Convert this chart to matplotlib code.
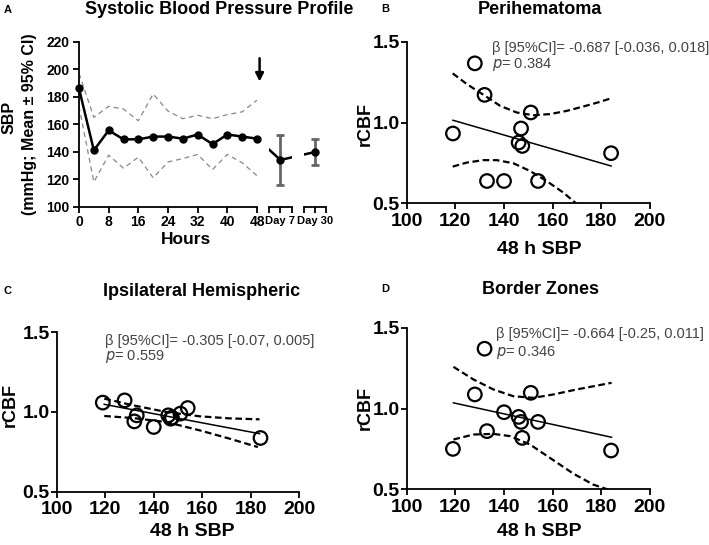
import matplotlib
matplotlib.use("Agg")
import matplotlib.pyplot as plt

plt.rcParams['font.family'] = ['Liberation Sans', 'DejaVu Sans']

# Panel A: SBP profile over the first 48 hours
hours = [0, 4, 8, 12, 16, 20, 24, 28, 32, 36, 40, 44, 48]
sbp_mean = [186, 141, 155.5, 149, 149, 151, 151, 149.5, 152.5, 145.5, 152.5, 151, 149.5]
sbp_upper = [197, 165, 173, 171, 162.5, 182, 169.5, 164, 166.5, 164, 167, 169, 177.5]
sbp_lower = [173, 118, 137.5, 128, 136, 121, 132.5, 135, 138, 127, 138, 132, 122.5]

day_labels = ['Day 7', 'Day 30']
day_mean = [134, 139.8]
day_low = [115.8, 130.3]
day_high = [152, 149.2]

# 48 h SBP (x) shared by panels B-D
sbp48 = [119, 128, 132, 133, 140, 146, 147, 147.5, 151, 154, 184]

# Panel B: perihematoma rCBF
peri = [0.932, 1.366, 1.171, 0.638, 0.638, 0.876, 0.963, 0.855, 1.062, 0.638, 0.810]
peri_fit_x = [119, 184]
peri_fit_y = [1.014, 0.731]
peri_up_x = [118.9, 124.7, 132.2, 138.4, 145.2, 152.1, 158.9, 165.8, 172.6, 179.5, 184.2]
peri_up_y = [1.304, 1.238, 1.165, 1.103, 1.062, 1.045, 1.052, 1.072, 1.099, 1.128, 1.151]
peri_lo_x = [118.9, 124.7, 131.5, 137.0, 143.8, 150.7, 157.5, 164.4, 169.6]
peri_lo_y = [0.727, 0.752, 0.767, 0.767, 0.748, 0.700, 0.638, 0.566, 0.500]

# Panel C: ipsilateral hemispheric rCBF
ipsi = [1.059, 1.073, 0.941, 0.979, 0.906, 0.979, 0.958, 0.965, 0.990, 1.025, 0.837]
ipsi_fit_x = [119.6, 183.6]
ipsi_fit_y = [1.048, 0.864]
ipsi_up_x = [119.6, 131.5, 145.2, 158.9, 171.2, 183.6]
ipsi_up_y = [1.084, 1.042, 1.000, 0.973, 0.960, 0.954]
ipsi_lo_x = [119.6, 131.5, 145.2, 158.9, 171.2, 182.9]
ipsi_lo_y = [0.975, 0.962, 0.937, 0.885, 0.833, 0.780]

# Panel D: border zones rCBF
border = [0.750, 1.087, 1.370, 0.860, 0.977, 0.948, 0.917, 0.818, 1.097, 0.917, 0.740]
border_fit_x = [119.2, 184.2]
border_fit_y = [1.035, 0.822]
border_up_x = [119.2, 127.4, 135.6, 143.8, 152.1, 160.3, 169.9, 184.2]
border_up_y = [1.258, 1.180, 1.118, 1.076, 1.066, 1.087, 1.118, 1.159]
border_lo_x = [119.2, 127.4, 135.6, 142.5, 150.7, 158.9, 168.5, 176.7, 182.9]
border_lo_y = [0.808, 0.839, 0.843, 0.829, 0.777, 0.694, 0.597, 0.529, 0.498]

W, H = 709, 545


def fx(px):
    return px / W


def fy(py):
    return 1 - py / H


def style_axes(ax, size):
    for s in ['top', 'right']:
        ax.spines[s].set_visible(False)
    for s in ['left', 'bottom']:
        ax.spines[s].set_linewidth(1.3)
    ax.tick_params(direction='out', length=4, width=1.3, labelsize=size, pad=1)
    for lab in ax.get_xticklabels() + ax.get_yticklabels():
        lab.set_fontweight('bold')


fig = plt.figure(figsize=(W / 100, H / 100), dpi=100)

# ---------------- Panel A ----------------
axA = fig.add_axes([fx(79), fy(206.7), fx(178), 165 / H])
axA.plot(hours, sbp_upper, color='#888888', lw=0.9, dashes=(4, 3))
axA.plot(hours, sbp_lower, color='#888888', lw=0.9, dashes=(4, 3))
axA.plot(hours, sbp_mean, color='black', lw=1.8, marker='o', ms=5,
         clip_on=False, zorder=3)
axA.set_xlim(0, 48)
axA.set_ylim(100, 220)
axA.set_xticks(range(0, 49, 8))
axA.set_yticks(range(100, 221, 20))
style_axes(axA, 10)
axA.tick_params(axis='y', pad=3)
axA.tick_params(axis='x', pad=2)
axA.annotate('', xy=(48.7, 189), xytext=(48.7, 210),
             arrowprops=dict(arrowstyle='-|>', color='black', lw=1.8,
                             mutation_scale=12),
             annotation_clip=False)

# Day 7 / Day 30 segments on the same hour-like scale
day_pos = [54.34, 63.64]
day_half = [3.1, 2.97]
link_x = [hours[-1]] + day_pos
link_y = [sbp_mean[-1]] + day_mean
left_px = [269, 304]
for i in range(2):
    axd = fig.add_axes([fx(left_px[i]), fy(206.7),
                        fx(2 * day_half[i] * 178 / 48), 165 / H])
    axd.plot(link_x, link_y, color='black', lw=1.8)
    axd.errorbar(day_pos[i], day_mean[i],
                 yerr=[[day_mean[i] - day_low[i]], [day_high[i] - day_mean[i]]],
                 fmt='o', color='black', ms=5, ecolor='#666666',
                 elinewidth=2, capsize=3, capthick=2, zorder=3)
    axd.set_xlim(day_pos[i] - day_half[i], day_pos[i] + day_half[i])
    axd.set_ylim(100, 220)
    axd.set_xticks([day_pos[i] - day_half[i], day_pos[i], day_pos[i] + day_half[i]])
    axd.set_xticklabels(['', day_labels[i], ''])
    axd.set_yticks([])
    axd.spines['left'].set_visible(False)
    style_axes(axd, 8)
    axd.tick_params(axis='x', pad=3)

fig.text(fx(218.8), fy(9), 'Systolic Blood Pressure Profile', ha='center',
         va='center', fontsize=13, fontweight='bold')
fig.text(fx(186.5), fy(240), 'Hours', ha='center', va='center',
         fontsize=12.5, fontweight='bold')
fig.text(fx(9), fy(117), 'SBP', rotation=90, ha='center', va='center',
         fontsize=11.5, fontweight='bold')
fig.text(fx(30), fy(124), '(mmHg; Mean \u00b1 95% CI)', rotation=90,
         ha='center', va='center', fontsize=11.5, fontweight='bold')

# ---------------- Panels B-D ----------------
panels = [
    dict(rect=[406.7, 203.3, 243.3, 161.6], y=peri, fit=(peri_fit_x, peri_fit_y),
         up=(peri_up_x, peri_up_y), lo=(peri_lo_x, peri_lo_y),
         title='Perihematoma', tpos=(539.7, 10), letter='B', lpos=(385, 9),
         ylab=(365, 124), xlab=(539, 249),
         stat=('-0.687 [-0.036, 0.018]', '0.384'), spos=(134.9, 1.464, 1.362)),
    dict(rect=[56.7, 491.7, 242.6, 159.4], y=ipsi, fit=(ipsi_fit_x, ipsi_fit_y),
         up=(ipsi_up_x, ipsi_up_y), lo=(ipsi_lo_x, ipsi_lo_y),
         title='Ipsilateral Hemispheric', tpos=(202, 291), letter='C', lpos=(8, 291),
         ylab=(10, 405), xlab=(192, 532),
         stat=('-0.305 [-0.07, 0.005]', '0.559'), spos=(119.9, 1.445, 1.349)),
    dict(rect=[406.7, 489.3, 243.3, 161.6], y=border, fit=(border_fit_x, border_fit_y),
         up=(border_up_x, border_up_y), lo=(border_lo_x, border_lo_y),
         title='Border Zones', tpos=(540, 290), letter='D', lpos=(385, 289),
         ylab=(365, 408), xlab=(539, 531),
         stat=('-0.664 [-0.25, 0.011]', '0.346'), spos=(136.7, 1.46, 1.346)),
]

for p in panels:
    x0, yb, w, h = p['rect']
    ax = fig.add_axes([fx(x0), fy(yb), fx(w), h / H])
    ax.plot(p['up'][0], p['up'][1], color='black', lw=1.6, dashes=(3, 1.6))
    ax.plot(p['lo'][0], p['lo'][1], color='black', lw=1.6, dashes=(3, 1.6))
    ax.plot(p['fit'][0], p['fit'][1], color='black', lw=1.1)
    ax.scatter(sbp48, p['y'], s=95, facecolors='none', edgecolors='black',
               linewidths=1.6, zorder=3)
    ax.set_xlim(100, 200)
    ax.set_ylim(0.5, 1.5)
    ax.set_xticks(range(100, 201, 20))
    ax.set_yticks([0.5, 1.0, 1.5])
    ax.set_yticklabels(['0.5', '1.0', '1.5'])
    style_axes(ax, 14)
    ax.tick_params(axis='x', pad=3)
    sx, sy1, sy2 = p['spos']
    ax.text(sx, sy1, '\u03b2 [95%CI]= ' + p['stat'][0], fontsize=10.5,
            color='#444444', va='center', ha='left')
    ax.text(sx, sy2, '$p$= ' + p['stat'][1], fontsize=10.5,
            color='#444444', va='center', ha='left')
    fig.text(fx(p['tpos'][0]), fy(p['tpos'][1]), p['title'], ha='center',
             va='center', fontsize=13, fontweight='bold')
    fig.text(fx(p['ylab'][0]), fy(p['ylab'][1]), 'rCBF', rotation=90,
             ha='center', va='center', fontsize=13, fontweight='bold')
    fig.text(fx(p['xlab'][0]), fy(p['xlab'][1]), '48 h SBP', ha='center',
             va='center', fontsize=14, fontweight='bold')
    fig.text(fx(p['lpos'][0]), fy(p['lpos'][1]), p['letter'], ha='center',
             va='center', fontsize=8, fontweight='bold')

fig.text(fx(8), fy(10), 'A', ha='center', va='center', fontsize=8,
         fontweight='bold')

fig.savefig('out.png', dpi=100)
